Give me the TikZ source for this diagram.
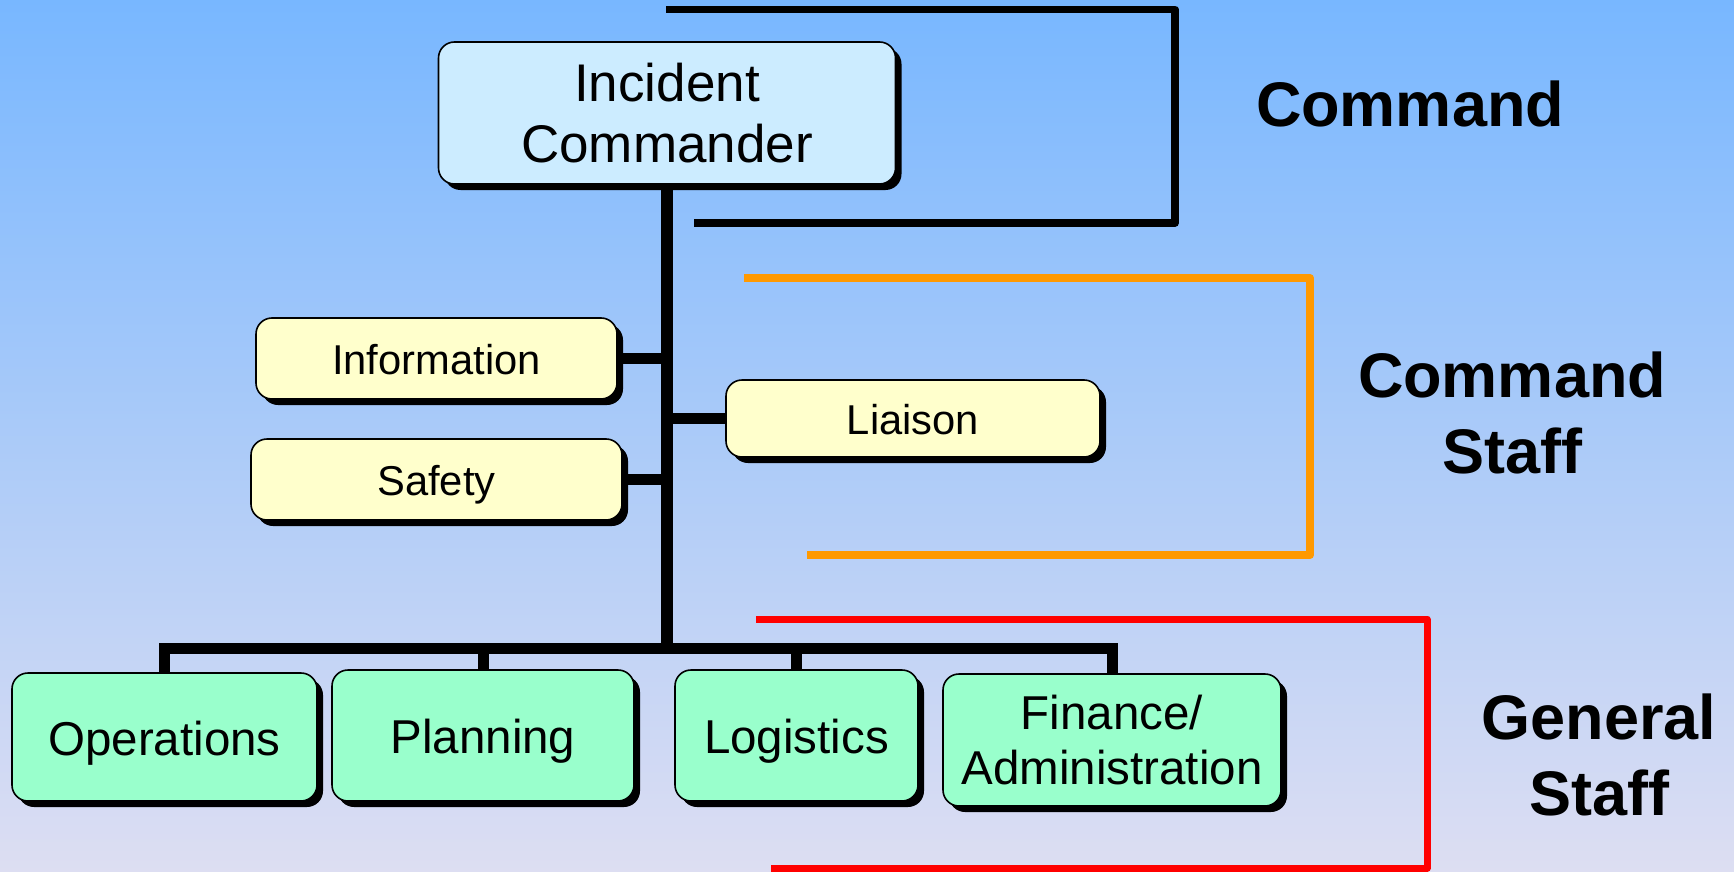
\documentclass[tikz,border=0pt]{standalone}
\usepackage{fontspec}
\setmainfont{Liberation Sans}
\usetikzlibrary{shadows}

\definecolor{bgtop}{RGB}{120,183,255}
\definecolor{bgbot}{RGB}{221,222,242}
\definecolor{cmdfill}{RGB}{204,236,255}
\definecolor{stafffill}{RGB}{255,255,204}
\definecolor{genfill}{RGB}{153,255,204}
\definecolor{orangeline}{RGB}{255,153,0}

\begin{document}
\begin{tikzpicture}[x=0.5pt,y=-0.5pt,
  box/.style={draw=black, line width=0.8pt, rounded corners=8pt, inner sep=0pt,
    drop shadow={fill=black, opacity=1, shadow xshift=3pt, shadow yshift=-3pt}},
  twoline/.style={align=center},
  topbox/.style={box, twoline, fill=cmdfill, font=\fontsize{26.5}{30.8}\selectfont},
  staffbox/.style={box, fill=stafffill, font=\fontsize{20.85}{25}\selectfont,
    text height=20pt, text depth=4.2pt},
  genbox/.style={box, fill=genfill, font=\fontsize{23.75}{27.6}\selectfont},
  genline/.style={text height=22.8pt, text depth=4.75pt},
  wire/.style={line width=5.5pt, line cap=butt, line join=miter},
  bracket/.style={line width=#1, line join=round, line cap=butt},
  tier/.style={align=center, font=\fontsize{31.5}{38}\selectfont\bfseries}
]
\useasboundingbox (0,0) rectangle (1734,872);
\shade[top color=bgtop, bottom color=bgbot] (0,0) rectangle (1734,872);

% tier brackets
\draw[bracket=3.75pt, black] (666,9.5) -- (1175,9.5) -- (1175,223) -- (694,223);
\draw[bracket=4pt, orangeline] (744,278) -- (1310,278) -- (1310,555) -- (807,555);
\draw[bracket=3.5pt, red] (756,619) -- (1427,619) -- (1427,868) -- (771,868);

% tier labels
\node[tier] (cmdlabel) at (1410,104) {Command};
\node[tier] (cslabel) at (1512,413) {Command\\Staff};
\node[tier] (gslabel) at (1599,755) {General\\Staff};

% command
\node[topbox, minimum width=228.5pt, minimum height=71pt] (ic) at (667,113) {Incident\\Commander};

% command staff
\node[staffbox, minimum width=180.5pt, minimum height=40.5pt] (info) at (436.5,358.5) {Information};
\node[staffbox, minimum width=185.5pt, minimum height=40.5pt] (safety) at (436.5,479.5) {Safety};
\node[staffbox, minimum width=187pt, minimum height=38.5pt] (liaison) at (913,418.5) {Liaison};

% general staff
\node[genbox, genline, minimum width=152.5pt, minimum height=64pt] (ops) at (164.5,737) {Operations};
\node[genbox, genline, minimum width=151pt, minimum height=65.5pt] (plan) at (483,735.5) {Planning};
\node[genbox, genline, minimum width=121.5pt, minimum height=65.5pt] (logi) at (796.5,735.5) {Logistics};
\node[genbox, twoline, minimum width=169pt, minimum height=66pt] (fin) at (1112,740) {Finance/\\Administration};

% connectors
\coordinate (bus) at (667,648);
\draw[wire, line width=6pt] (ic.south) -- (bus);
\draw[wire] (info.east) -- (info.east -| ic.south);
\draw[wire] (safety.east) -- (safety.east -| ic.south);
\draw[wire] (liaison.west) -- (liaison.west -| ic.south);
\draw[wire] (ops.north) |- (bus) -| (fin.north);
\draw[wire] (plan.north) -- (plan.north |- bus);
\draw[wire] (logi.north) -- (logi.north |- bus);
\end{tikzpicture}
\end{document}
